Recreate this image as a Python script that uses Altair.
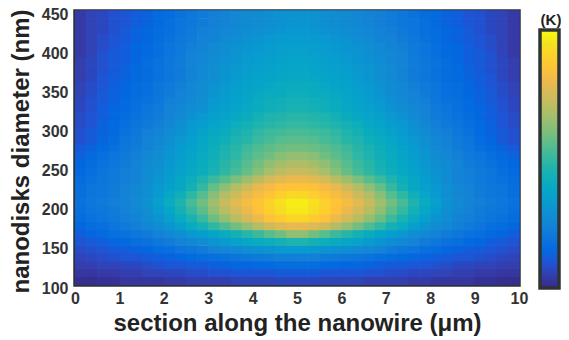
import altair as alt
import pandas as pd

# cell edges along the nanowire (um) and along the nanodisk diameter (nm)
x_edges = [0, 0.25, 0.5, 0.75, 1, 1.25, 1.5, 1.75, 2, 2.25, 2.5, 2.75, 3, 3.25, 3.5, 3.75, 4, 4.25,
           4.5, 4.75, 5, 5.25, 5.5, 5.75, 6, 6.25, 6.5, 6.75, 7, 7.25, 7.5, 7.75, 8, 8.25, 8.5,
           8.75, 9, 9.25, 9.5, 9.75, 10]
y_edges = [100, 110, 120, 130, 140, 150, 160, 170, 180, 190, 200, 210, 220, 230, 240, 250, 260,
           270, 280, 290, 300, 310, 320, 330, 340, 350, 360, 370, 380, 390, 400, 410, 420, 430,
           440, 450]

# temperature rise, in % of the colour range; one row per diameter band,
# from 100 nm (bottom) to 450 nm (top), 40 cells along the wire from 0 to 10 um
temp_rows = [
    [1, 1, 2, 2, 3, 3, 3, 3, 4, 4, 5, 5, 5, 5, 6, 6, 6, 6, 7, 7, 7, 7, 6, 6, 6, 6, 5, 5, 5, 5, 4, 4, 3, 3, 3, 3, 2, 2, 1, 1],
    [3, 3, 4, 4, 5, 5, 6, 6, 7, 7, 8, 8, 9, 9, 10, 10, 10, 10, 11, 11, 11, 11, 10, 10, 10, 10, 9, 9, 8, 8, 7, 7, 6, 6, 5, 5, 4, 4, 3, 3],
    [5, 5, 6, 6, 7, 7, 8, 9, 10, 10, 11, 11, 12, 13, 14, 14, 15, 15, 16, 16, 16, 16, 15, 15, 14, 14, 13, 12, 11, 11, 10, 10, 9, 8, 7, 7, 6, 6, 5, 5],
    [6, 7, 8, 9, 10, 10, 11, 12, 13, 14, 15, 16, 17, 18, 19, 20, 21, 22, 23, 23, 23, 23, 22, 21, 20, 19, 18, 17, 16, 15, 14, 13, 12, 11, 10, 10, 9, 8, 7, 6],
    [8, 9, 10, 11, 12, 13, 14, 16, 17, 19, 20, 22, 24, 26, 27, 29, 30, 31, 32, 33, 33, 32, 31, 30, 29, 27, 26, 24, 22, 20, 19, 17, 16, 14, 13, 12, 11, 10, 9, 8],
    [10, 11, 12, 14, 15, 17, 18, 20, 22, 24, 26, 28, 31, 33, 36, 38, 40, 42, 44, 46, 46, 44, 42, 40, 38, 36, 33, 31, 28, 26, 24, 22, 20, 18, 17, 15, 14, 12, 11, 10],
    [12, 14, 15, 17, 18, 20, 22, 24, 27, 29, 32, 34, 37, 41, 44, 48, 51, 55, 59, 63, 63, 59, 55, 51, 48, 44, 41, 37, 34, 32, 29, 27, 24, 22, 20, 18, 17, 15, 14, 12],
    [14, 16, 17, 19, 21, 23, 26, 28, 31, 35, 40, 44, 49, 54, 59, 64, 69, 74, 77, 79, 79, 77, 74, 69, 64, 59, 54, 49, 44, 40, 35, 31, 28, 26, 23, 21, 19, 17, 16, 14],
    [16, 18, 19, 21, 23, 25, 28, 31, 35, 40, 45, 51, 58, 64, 70, 75, 80, 85, 88, 91, 91, 88, 85, 80, 75, 70, 64, 58, 51, 45, 40, 35, 31, 28, 25, 23, 21, 19, 18, 16],
    [17, 19, 20, 22, 24, 26, 29, 33, 38, 44, 50, 56, 63, 70, 75, 80, 85, 89, 93, 96, 96, 93, 89, 85, 80, 75, 70, 63, 56, 50, 44, 38, 33, 29, 26, 24, 22, 20, 19, 17],
    [18, 20, 21, 23, 25, 27, 30, 35, 40, 46, 53, 59, 66, 73, 78, 83, 86, 90, 94, 97, 97, 94, 90, 86, 83, 78, 73, 66, 59, 53, 46, 40, 35, 30, 27, 25, 23, 21, 20, 18],
    [17, 19, 20, 22, 24, 26, 29, 33, 38, 43, 49, 55, 62, 69, 74, 79, 83, 86, 89, 92, 92, 89, 86, 83, 79, 74, 69, 62, 55, 49, 43, 38, 33, 29, 26, 24, 22, 20, 19, 17],
    [17, 19, 20, 22, 24, 26, 29, 32, 35, 39, 44, 50, 57, 63, 69, 74, 79, 82, 85, 86, 86, 85, 82, 79, 74, 69, 63, 57, 50, 44, 39, 35, 32, 29, 26, 24, 22, 20, 19, 17],
    [16, 18, 19, 21, 23, 25, 28, 31, 34, 38, 42, 46, 51, 55, 60, 65, 70, 75, 78, 80, 80, 78, 75, 70, 65, 60, 55, 51, 46, 42, 38, 34, 31, 28, 25, 23, 21, 19, 18, 16],
    [15, 17, 19, 21, 23, 25, 28, 30, 33, 36, 39, 42, 45, 49, 53, 57, 62, 67, 71, 73, 73, 71, 67, 62, 57, 53, 49, 45, 42, 39, 36, 33, 30, 28, 25, 23, 21, 19, 17, 15],
    [14, 16, 18, 20, 22, 24, 27, 29, 32, 35, 38, 41, 44, 48, 51, 55, 59, 63, 66, 68, 68, 66, 63, 59, 55, 51, 48, 44, 41, 38, 35, 32, 29, 27, 24, 22, 20, 18, 16, 14],
    [13, 15, 17, 19, 21, 23, 26, 28, 31, 34, 37, 40, 43, 46, 49, 53, 56, 59, 62, 64, 64, 62, 59, 56, 53, 49, 46, 43, 40, 37, 34, 31, 28, 26, 23, 21, 19, 17, 15, 13],
    [11, 13, 15, 17, 20, 22, 25, 27, 30, 33, 36, 39, 42, 45, 48, 51, 54, 56, 58, 59, 59, 58, 56, 54, 51, 48, 45, 42, 39, 36, 33, 30, 27, 25, 22, 20, 17, 15, 13, 11],
    [9, 11, 14, 16, 19, 21, 24, 26, 29, 32, 35, 38, 41, 43, 46, 48, 51, 53, 55, 56, 56, 55, 53, 51, 48, 46, 43, 41, 38, 35, 32, 29, 26, 24, 21, 19, 16, 14, 11, 9],
    [9, 11, 13, 15, 18, 20, 23, 25, 28, 30, 33, 36, 39, 41, 44, 46, 49, 51, 52, 53, 53, 52, 51, 49, 46, 44, 41, 39, 36, 33, 30, 28, 25, 23, 20, 18, 15, 13, 11, 9],
    [8, 10, 13, 15, 17, 19, 21, 23, 26, 29, 32, 34, 37, 39, 42, 44, 46, 48, 49, 50, 50, 49, 48, 46, 44, 42, 39, 37, 34, 32, 29, 26, 23, 21, 19, 17, 15, 13, 10, 8],
    [8, 10, 12, 14, 16, 18, 20, 22, 25, 27, 30, 32, 35, 37, 39, 41, 44, 46, 47, 48, 48, 47, 46, 44, 41, 39, 37, 35, 32, 30, 27, 25, 22, 20, 18, 16, 14, 12, 10, 8],
    [7, 9, 12, 14, 15, 17, 19, 21, 24, 26, 28, 30, 33, 35, 37, 39, 41, 43, 44, 45, 45, 44, 43, 41, 39, 37, 35, 33, 30, 28, 26, 24, 21, 19, 17, 15, 14, 12, 9, 7],
    [7, 9, 11, 13, 15, 17, 18, 20, 23, 25, 27, 29, 32, 34, 36, 38, 40, 42, 43, 44, 44, 43, 42, 40, 38, 36, 34, 32, 29, 27, 25, 23, 20, 18, 17, 15, 13, 11, 9, 7],
    [6, 8, 11, 13, 14, 16, 17, 19, 22, 24, 26, 28, 31, 33, 35, 37, 39, 40, 41, 42, 42, 41, 40, 39, 37, 35, 33, 31, 28, 26, 24, 22, 19, 17, 16, 14, 13, 11, 8, 6],
    [6, 8, 10, 12, 14, 16, 17, 19, 21, 23, 26, 28, 30, 32, 34, 36, 37, 39, 40, 41, 41, 40, 39, 37, 36, 34, 32, 30, 28, 26, 23, 21, 19, 17, 16, 14, 12, 10, 8, 6],
    [5, 7, 10, 12, 13, 15, 16, 18, 20, 22, 25, 27, 29, 31, 33, 35, 36, 37, 38, 39, 39, 38, 37, 36, 35, 33, 31, 29, 27, 25, 22, 20, 18, 16, 15, 13, 12, 10, 7, 5],
    [5, 7, 9, 11, 13, 15, 16, 18, 20, 22, 25, 27, 29, 31, 32, 34, 35, 36, 37, 38, 38, 37, 36, 35, 34, 32, 31, 29, 27, 25, 22, 20, 18, 16, 15, 13, 11, 9, 7, 5],
    [5, 7, 9, 11, 12, 14, 16, 18, 20, 22, 24, 26, 28, 30, 31, 33, 34, 35, 36, 37, 37, 36, 35, 34, 33, 31, 30, 28, 26, 24, 22, 20, 18, 16, 14, 12, 11, 9, 7, 5],
    [4, 6, 9, 11, 12, 14, 15, 17, 19, 21, 24, 26, 27, 29, 31, 32, 33, 34, 35, 36, 36, 35, 34, 33, 32, 31, 29, 27, 26, 24, 21, 19, 17, 15, 14, 12, 11, 9, 6, 4],
    [4, 6, 8, 10, 12, 14, 15, 17, 19, 21, 23, 25, 27, 29, 30, 31, 32, 33, 34, 35, 35, 34, 33, 32, 31, 30, 29, 27, 25, 23, 21, 19, 17, 15, 14, 12, 10, 8, 6, 4],
    [4, 6, 8, 10, 11, 13, 14, 16, 18, 20, 22, 24, 25, 27, 28, 30, 31, 32, 33, 33, 33, 33, 32, 31, 30, 28, 27, 25, 24, 22, 20, 18, 16, 14, 13, 11, 10, 8, 6, 4],
    [4, 6, 7, 9, 11, 13, 14, 16, 17, 19, 21, 23, 24, 26, 27, 28, 29, 30, 31, 32, 32, 31, 30, 29, 28, 27, 26, 24, 23, 21, 19, 17, 16, 14, 13, 11, 9, 7, 6, 4],
    [4, 6, 7, 9, 10, 12, 13, 15, 17, 19, 20, 22, 23, 25, 26, 27, 28, 29, 30, 31, 31, 30, 29, 28, 27, 26, 25, 23, 22, 20, 19, 17, 15, 13, 12, 10, 9, 7, 6, 4],
    [4, 6, 7, 9, 10, 12, 13, 15, 16, 18, 20, 22, 23, 25, 26, 27, 28, 29, 30, 30, 30, 30, 29, 28, 27, 26, 25, 23, 22, 20, 18, 16, 15, 13, 12, 10, 9, 7, 6, 4],
]

x_ticks = [0, 1, 2, 3, 4, 5, 6, 7, 8, 9, 10]
y_ticks = [100, 150, 200, 250, 300, 350, 400, 450]
colorbar_ticks = [13.8, 29.1, 44.4, 59.7, 75.0, 90.3]

parula = ["#352a87", "#353dad", "#2053d4", "#0268e1", "#0d75dc", "#1481d6", "#108ed2",
          "#079ccf", "#06a7c6", "#0faeb9", "#25b5a9", "#42bb98", "#65be86", "#87bf77",
          "#a5be6b", "#c0bc60", "#d9ba56", "#f1b94a", "#ffc337", "#fad32a", "#f5e41d", "#f9fb0e"]

records = []
for j, row in enumerate(temp_rows):
    for i, t in enumerate(row):
        records.append({"x0": x_edges[i], "x1": x_edges[i + 1],
                        "y0": y_edges[j], "y1": y_edges[j + 1], "t": t})
df = pd.DataFrame(records)
ticks_df = pd.DataFrame({"v": colorbar_ticks})

FRAME = "#2e3436"
cscale = alt.Scale(domain=[0, 100], range=parula, interpolate="rgb")

heat = alt.Chart(df).mark_rect(x2Offset=0.7, y2Offset=-0.7).encode(
    x=alt.X("x0:Q", scale=alt.Scale(domain=[0, 10], nice=False, zero=False),
            axis=alt.Axis(values=x_ticks, title="section along the nanowire (μm)",
                          labelPadding=5, titlePadding=5, labelFlush=False)),
    x2="x1:Q",
    y=alt.Y("y0:Q", scale=alt.Scale(domain=[100, 450], nice=False, zero=False),
            axis=alt.Axis(values=y_ticks, title="nanodisks diameter (nm)",
                          labelPadding=7, titlePadding=8, labelFlush=False,
                          labelOffset=3, titleY=140)),
    y2="y1:Q",
    color=alt.Color("t:Q", scale=cscale, legend=alt.Legend(
        type="gradient", title="(K)", orient="none", legendX=465, legendY=2,
        direction="vertical", gradientLength=258, gradientThickness=19,
        gradientStrokeColor=FRAME, gradientStrokeWidth=3.5,
        labelExpr="''", labelFontSize=1,
        titleFontSize=15, titleFont="Liberation Sans", titleFontWeight="bold",
        titleColor="#222222", titleAnchor="middle", titlePadding=2, padding=0)),
)

# colour-bar ticks, placed on the colour-bar's own scale
cbar_ticks = alt.Chart(ticks_df).mark_rule(color=FRAME, strokeWidth=2.5).encode(
    y=alt.Y("v:Q", scale=alt.Scale(domain=[0, 100], range=[277, 19], nice=False, zero=False),
            axis=None),
    x=alt.value(476),
    x2=alt.value(483),
)

chart = alt.layer(heat, cbar_ticks).resolve_scale(y="independent").properties(
    width=444, height=274,
    autosize=alt.AutoSizeParams(type="none"),
    padding={"left": 67, "top": 3, "right": 42, "bottom": 52},
).configure_view(
    stroke=FRAME, strokeWidth=3.5
).configure_axis(
    domain=False, ticks=False, grid=False,
    labelFont="Liberation Sans", labelFontWeight="bold", labelFontSize=16, labelColor="#333333",
    titleFont="Liberation Sans", titleFontWeight="bold", titleFontSize=24, titleColor="#222222",
)

chart.save("out.html", embed_options={"renderer": "svg", "actions": False})
